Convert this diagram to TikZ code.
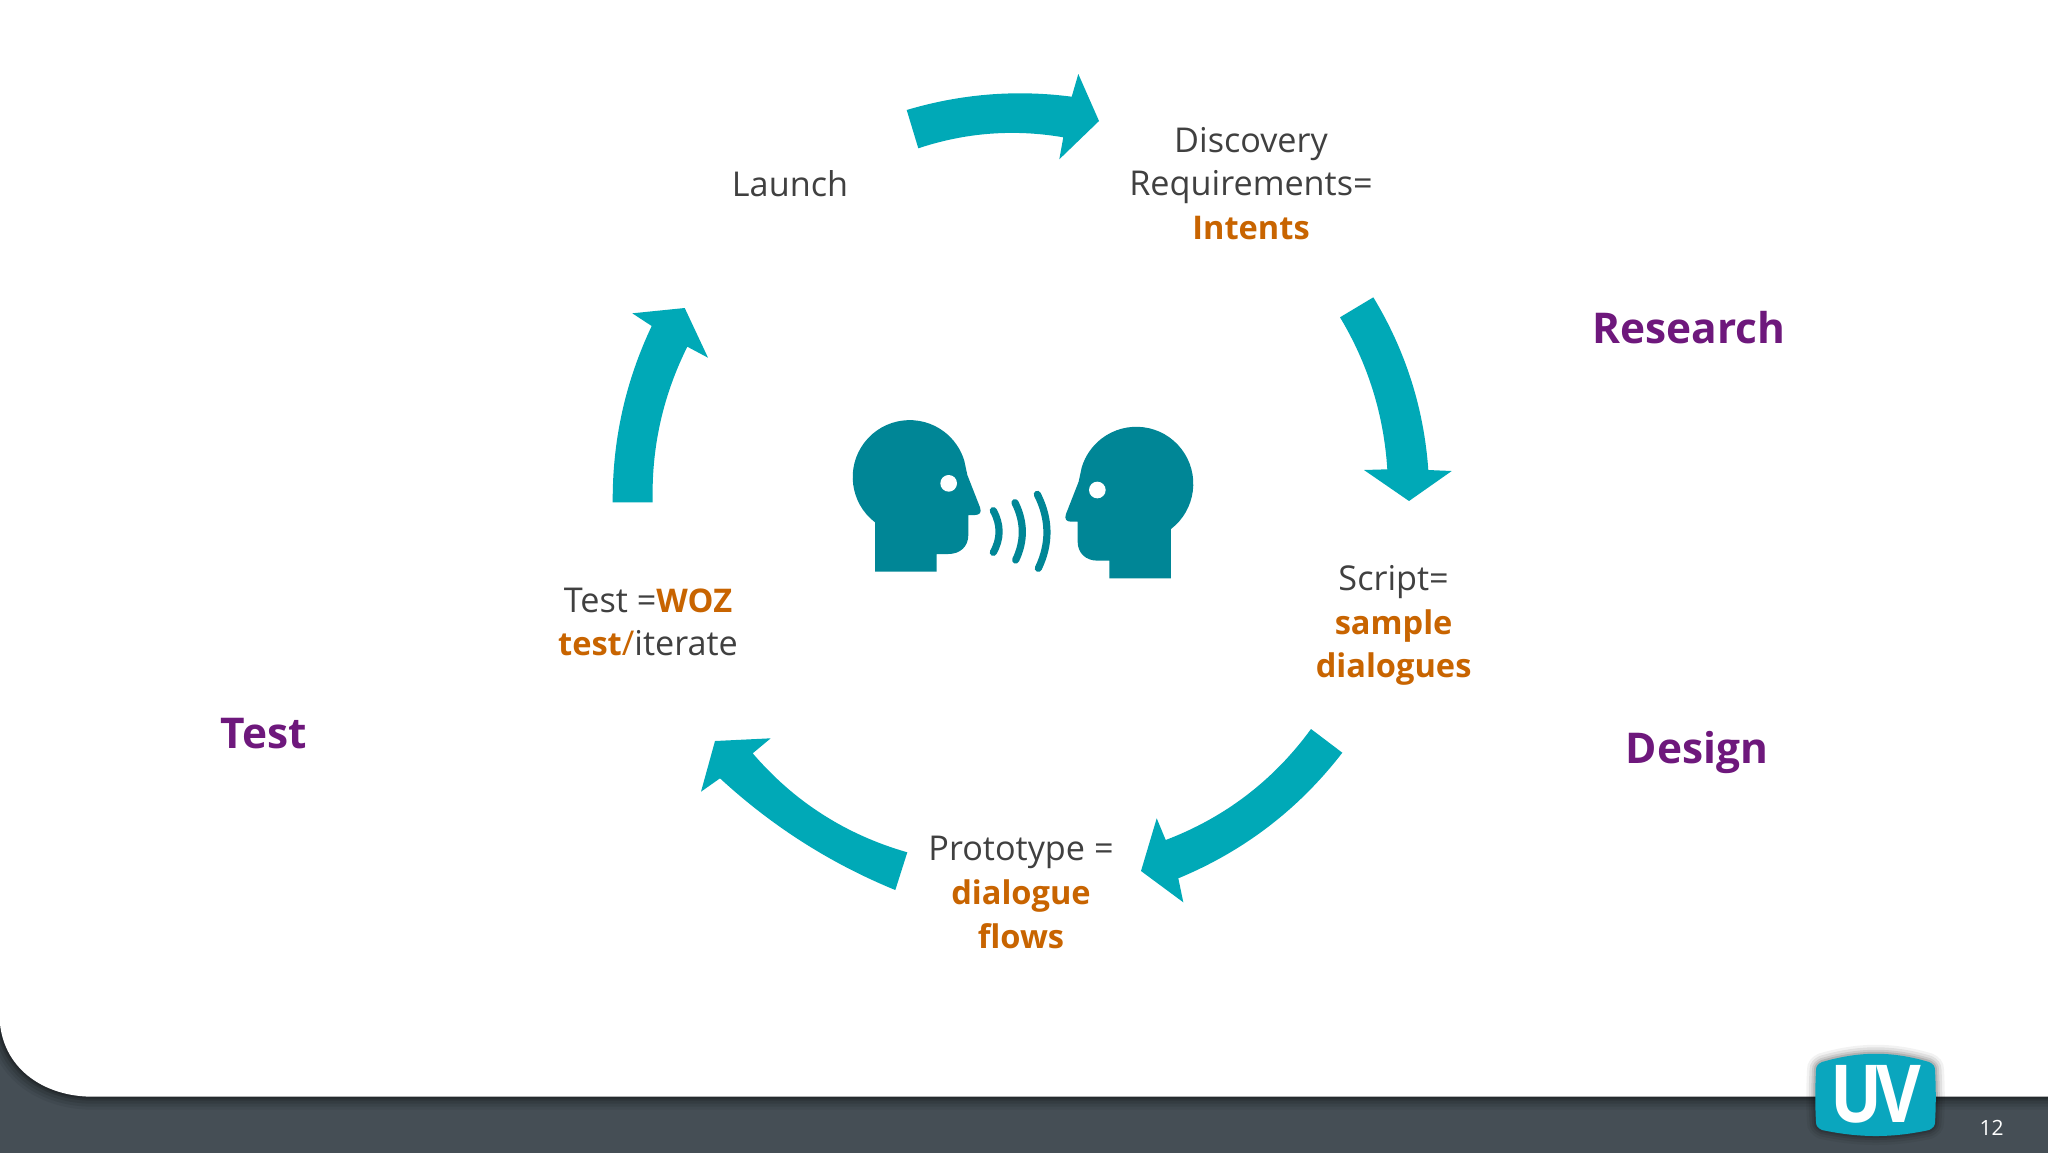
\documentclass[tikz,border=0pt]{standalone}
\usepackage{fontspec}
\setmainfont{Open Sans}
\definecolor{arrowteal}{RGB}{0,169,183}
\definecolor{headteal}{RGB}{0,134,150}
\definecolor{txtgray}{RGB}{64,64,64}
\definecolor{txtorange}{RGB}{200,100,0}
\definecolor{txtpurple}{RGB}{110,24,124}
\definecolor{footer}{RGB}{69,78,85}
\definecolor{logoblue}{RGB}{10,166,190}
\newcommand{\oo}[1]{\textcolor{txtorange}{\fontsize{16.3}{21.9}\selectfont\bfseries #1}}
\newcommand{\headshape}{(165,515) -- (165,367) arc[start angle=127.5,end angle=343.2,radius=171] -- (442,225) -- (480,322) .. controls (486,338) and (478,345) .. (465,345) -- (445,345) -- (445,405) .. controls (445,440) and (420,462) .. (385,462) -- (350,462) -- (350,515) -- cycle}
\newcommand{\whiteshape}{(0,1024) .. controls (5,1070) and (45,1096.7) .. (93,1096.7) -- (2048,1096.7)}
\newcommand{\logoshape}{(1816,1070) .. controls (1816,1066) and (1818,1064) .. (1822,1062) .. controls (1860,1051) and (1892,1051) .. (1929,1062) .. controls (1933,1064) and (1935,1066) .. (1935,1070) .. controls (1936,1090) and (1936,1105) .. (1935,1122) .. controls (1935,1126) and (1933,1128) .. (1929,1130) .. controls (1892,1138) and (1860,1138) .. (1822,1130) .. controls (1818,1128) and (1816,1126) .. (1816,1122) .. controls (1815,1105) and (1815,1090) .. (1816,1070) -- cycle}
\tikzset{
  blockarrow/.style={fill=arrowteal,draw=none},
  headfill/.style={fill=headteal,draw=none},
  eye/.style={fill=white,draw=none},
  wave/.style={draw=headteal,line width=3.6pt,line cap=round},
  body/.style={font=\fontsize{17.1}{21.9}\selectfont,text=txtgray,align=center,inner sep=0pt},
  phase/.style={font=\fontsize{21.2}{25}\selectfont\bfseries,text=txtpurple,inner sep=0pt},
}
\begin{document}
\begin{tikzpicture}[x=0.5pt,y=-0.5pt]
\useasboundingbox (0,0) rectangle (2048,1152);
% footer and white slide
\fill[footer] (0,1000) rectangle (2048,1160);
\foreach \w/\o in {26/0.06,20/0.08,14/0.10,8/0.14,4/0.18}
  \draw[black,line width=\w*0.5pt,opacity=\o] \whiteshape;
\fill[white] (0,0) -- (2048,0) -- (2048,1096.7) -- (93,1096.7) .. controls (45,1096.7) and (5,1070) .. (0,1024) -- cycle;
% logo
\foreach \w/\o in {18/0.05,13/0.07,8/0.09,4/0.12}
  \draw[black,line width=\w*0.5pt,opacity=\o] \logoshape;
\fill[logoblue] \logoshape;
\node[inner sep=0pt,text=white,font=\fontsize{40}{40}\selectfont\bfseries,xscale=0.86] (uv) at (1875.5,1094.5) {U\kern-3.5ptV};
\node[inner sep=0pt,text=white,font=\fontsize{10.5}{12}\selectfont] (pg) at (1991.5,1128) {12};
% block arrows
\fill[blockarrow] (906.7,110) .. controls (960.8,93.9) and (1015.8,89.4) .. (1071.7,96.7) -- (1078.3,74) -- (1099,121) -- (1059.3,159.3) -- (1063.3,137.3) .. controls (1014.1,128.9) and (965.7,132.5) .. (918.3,148.3) -- cycle;
\fill[blockarrow] (1373.3,297.3) .. controls (1405.5,350.5) and (1423.9,408) .. (1428.3,470) -- (1451.7,471) -- (1409,501) -- (1364,470) -- (1387.3,469.3) .. controls (1383.8,414.7) and (1368.1,364.1) .. (1340,317.3) -- cycle;
\fill[blockarrow] (1342.3,752.7) .. controls (1298.7,809.2) and (1244.1,851) .. (1178.3,878.3) -- (1183.3,902.3) -- (1141,871) -- (1156.7,818.3) -- (1165.7,840) .. controls (1225,817.4) and (1273.5,780.4) .. (1311,729) -- cycle;
\fill[blockarrow] (895.3,890) .. controls (830.2,863.4) and (771.7,826) .. (720,778.3) -- (701,791.7) -- (715,741) -- (770.7,738.3) -- (752.7,753.3) .. controls (794.2,801.7) and (845.8,834.7) .. (907.3,852.3) -- cycle;
\fill[blockarrow] (612.7,502.3) .. controls (612.3,440.4) and (625.3,381.7) .. (651.7,326) -- (632.3,313.3) -- (684.7,308) -- (708,357.7) -- (687.3,346.7) .. controls (662.9,395.8) and (651.3,447.6) .. (652.7,502.3) -- cycle;
% heads (coordinates of a 3x crop at 820,400)
\begin{scope}[shift={(820,400)},x=0.5pt/3,y=-0.5pt/3]
  \fill[headfill] \headshape;
  \fill[eye] (386,250) circle[radius=25];
  \draw[wave] (520,332) .. controls (543,374) and (543,416) .. (520,457);
  \draw[wave] (585,308) .. controls (614,366) and (614,424) .. (587,480);
  \draw[wave] (652,283) .. controls (690,358) and (690,432) .. (655,505);
\end{scope}
\begin{scope}[shift={(820,400)},x=-0.5pt/3,y=-0.5pt/3,shift={(-1218,20)}]
  \fill[headfill] \headshape;
  \fill[eye] (386,250) circle[radius=25];
\end{scope}
% labels
\node[body] (launch) at (790,184) {Launch};
\node[body] (discovery) at (1251,183.5) {Discovery\\Requirements=\\\oo{Intents}};
\node[body] (script) at (1393.6,625.5) {Script=\\\oo{sample}\\\oo{dialogues}};
\node[body] (proto) at (1021,892.5) {Prototype =\\\oo{dialogue}\\\oo{flows}};
\node[body] (woz) at (648,622) {Test =\oo{WOZ}\\\oo{test}\textcolor{txtorange}{/}iterate};
\node[phase] (research) at (1689,328) {Research};
\node[phase] (design) at (1697,752) {Design};
\node[phase] (testlbl) at (264,734) {Test};
\end{tikzpicture}
\end{document}
